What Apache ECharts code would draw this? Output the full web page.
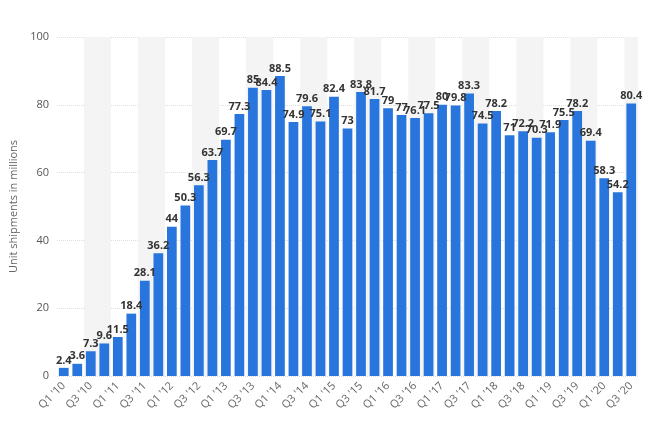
<!DOCTYPE html>
<html><head><meta charset="utf-8">
<script src="https://cdn.jsdelivr.net/npm/echarts@6/dist/echarts.min.js"></script>
<style>html,body{margin:0;padding:0;background:#fff}#c{width:650px;height:429px}</style>
</head><body><div id="c"></div>
<script>
const categories = [];
const years = ['10','11','12','13','14','15','16','17','18','19','20'];
for (const y of years) for (const q of [1,2,3,4]) categories.push("Q" + q + " '" + y);
categories.length = 43;
const values = [2.4,3.6,7.3,9.6,11.5,18.4,28.1,36.2,44,50.3,56.3,63.7,69.7,77.3,85,84.4,88.5,74.9,79.6,75.1,82.4,73,83.8,81.7,79,77,76.1,77.5,80,79.8,83.3,74.5,78.2,71,72.2,70.3,71.9,75.5,78.2,69.4,58.3,54.2,80.4];
const yTicks = [0,20,40,60,80,100];
const chart = echarts.init(document.getElementById('c'));
chart.setOption({
  animation:false,
  grid:{left:57,right:12,top:37,bottom:53},
  xAxis:{type:'category',data:categories,
    axisTick:{show:false},axisLine:{show:false},
    axisLabel:{interval:1,rotate:45,color:'#666',fontSize:11,fontFamily:'Open Sans',margin:8},
    splitArea:{show:true,interval:1,areaStyle:{color:['rgba(255,255,255,0)','#f4f4f4']}}},
  yAxis:{type:'value',min:yTicks[0],max:yTicks[yTicks.length-1],interval:20,
    name:'Unit shipments in millions',nameLocation:'middle',nameGap:36,
    nameTextStyle:{color:'#666',fontSize:11,fontFamily:'Open Sans'},
    axisLabel:{color:'#555',fontSize:11,fontFamily:'Open Sans'},
    splitLine:{lineStyle:{color:'#ddd',type:'dotted'}}},
  series:[{type:'bar',data:values,barWidth:'72%',itemStyle:{color:'#2876dd'},
    label:{show:true,position:'top',distance:2,color:'#333',fontWeight:'bold',fontSize:11,fontFamily:'Open Sans'}}]
});
</script></body></html>
